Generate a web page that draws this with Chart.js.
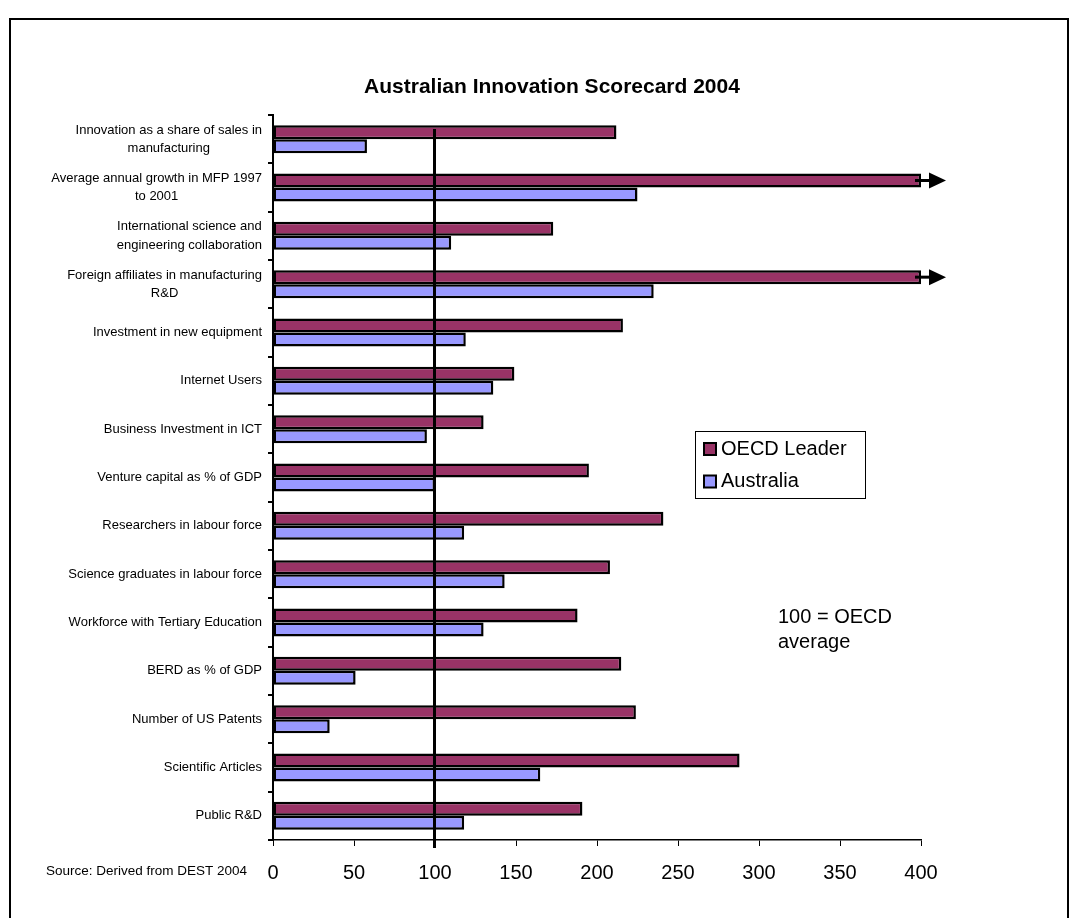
<!DOCTYPE html>
<html>
<head>
<meta charset="utf-8">
<title>Australian Innovation Scorecard 2004</title>
<script src="https://cdn.jsdelivr.net/npm/chart.js@4.4.1/dist/chart.umd.min.js"></script>
<style>
  html, body { margin: 0; padding: 0; background: #fff; }
  canvas { display: block; }
</style>
</head>
<body>
<canvas id="scorecard" width="1074" height="918"></canvas>
<script>
// Indicator names, one array of lines per row (top to bottom)
const categories = [
    ['Innovation as a share of sales in', 'manufacturing'],
    ['Average annual growth in MFP 1997', 'to 2001'],
    ['International science and', 'engineering collaboration'],
    ['Foreign affiliates in manufacturing', 'R&D'],
    ['Investment in new equipment'],
    ['Internet Users'],
    ['Business Investment in ICT'],
    ['Venture capital as % of GDP'],
    ['Researchers in labour force'],
    ['Science graduates in labour force'],
    ['Workforce with Tertiary Education'],
    ['BERD as % of GDP'],
    ['Number of US Patents'],
    ['Scientific Articles'],
    ['Public R&D']
];

// Index values, OECD average = 100 (400 = off the scale)
const oecdLeader = [212, 400, 173, 400, 216, 149, 130, 195, 241, 208, 188, 215, 224, 288, 191];
const australia = [58, 225, 110, 235, 119, 136, 95, 100, 118, 143, 130, 51, 35, 165, 118];

const xTicks = [0, 50, 100, 150, 200, 250, 300, 350, 400];
const referenceValue = 100;
const titleText = 'Australian Innovation Scorecard 2004';
const noteLines = ['100 = OECD', 'average'];
const sourceText = 'Source: Derived from DEST 2004';

const FONT = "'Liberation Sans', Arial, sans-serif";
Chart.defaults.font.family = FONT;
Chart.defaults.color = '#000';

// Page frame, title, category labels, reference line, arrows, legend and notes
const decorations = {
    id: 'decorations',
    beforeDraw(chart) {
        const ctx = chart.ctx;
        ctx.save();
        ctx.strokeStyle = '#000';
        ctx.lineWidth = 2;
        ctx.strokeRect(10, 19, 1058, 1000);

        ctx.fillStyle = '#000';
        ctx.font = 'bold 21px ' + FONT;
        ctx.textAlign = 'center';
        ctx.textBaseline = 'middle';
        ctx.fillText(titleText, 552, 87);
        ctx.restore();
    },
    afterDatasetsDraw(chart) {
        const ctx = chart.ctx;
        const x = chart.scales.x;
        const area = chart.chartArea;

        // vertical line at the OECD average
        const px = Math.round(x.getPixelForValue(referenceValue)) - 0.5;
        ctx.save();
        ctx.strokeStyle = '#000';
        ctx.lineWidth = 3;
        ctx.beginPath();
        ctx.moveTo(px, area.top + 14);
        ctx.lineTo(px, area.bottom + 8);
        ctx.stroke();

        // arrows on bars that run past the end of the scale
        const meta = chart.getDatasetMeta(0);
        oecdLeader.forEach((v, i) => {
            if (v < x.max) return;
            const bar = meta.data[i];
            const bx = bar.x, by = bar.y;
            ctx.lineWidth = 3;
            ctx.beginPath();
            ctx.moveTo(bx - 6, by);
            ctx.lineTo(bx + 10, by);
            ctx.stroke();
            ctx.fillStyle = '#000';
            ctx.beginPath();
            ctx.moveTo(bx + 8, by - 8);
            ctx.lineTo(bx + 25, by);
            ctx.lineTo(bx + 8, by + 8);
            ctx.closePath();
            ctx.fill();
        });
        ctx.restore();
    },
    afterDraw(chart) {
        const ctx = chart.ctx;
        const y = chart.scales.y;
        ctx.save();
        ctx.fillStyle = '#000';

        // category labels: block right-aligned, lines centred within it
        ctx.font = '13px ' + FONT;
        ctx.textAlign = 'center';
        ctx.textBaseline = 'middle';
        const lineH = 18.3;
        categories.forEach((lines, i) => {
            const cy = y.getPixelForValue(i);
            const w = Math.max(...lines.map(l => ctx.measureText(l).width));
            const cx = 262 - w / 2;
            lines.forEach((l, j) => {
                ctx.fillText(l, cx, cy + (j - (lines.length - 1) / 2) * lineH);
            });
        });

        // legend box
        ctx.lineWidth = 1;
        ctx.strokeStyle = '#000';
        ctx.strokeRect(695.5, 431.5, 170, 67);
        ctx.font = '20px ' + FONT;
        ctx.textAlign = 'left';
        chart.data.datasets.forEach((ds, i) => {
            const cy = 449 + i * 32.5;
            ctx.fillStyle = ds.backgroundColor;
            ctx.fillRect(704, cy - 6, 12, 12);
            ctx.lineWidth = 2;
            ctx.strokeRect(704, cy - 6, 12, 12);
            ctx.fillStyle = '#000';
            ctx.fillText(ds.label, 721, cy);
        });

        // note about the scale
        noteLines.forEach((l, j) => ctx.fillText(l, 778, 617 + j * 25));

        // source line
        ctx.font = '13.5px ' + FONT;
        ctx.fillText(sourceText, 46, 871);
        ctx.restore();
    }
};

new Chart(document.getElementById('scorecard'), {
    type: 'bar',
    data: {
        labels: categories,
        datasets: [{
            label: 'OECD Leader',
            data: oecdLeader,
            backgroundColor: '#993366',
            borderColor: '#000',
            borderWidth: 2.5,
            borderSkipped: false
        }, {
            label: 'Australia',
            data: australia,
            backgroundColor: '#9999FF',
            borderColor: '#000',
            borderWidth: 2.5,
            borderSkipped: false
        }]
    },
    options: {
        indexAxis: 'y',
        responsive: false,
        animation: false,
        events: [],
        categoryPercentage: 0.58,
        barPercentage: 1.0,
        layout: { padding: { left: 0, right: 153, top: 115, bottom: 18 } },
        plugins: {
            legend: { display: false },
            tooltip: { enabled: false },
            title: { display: false }
        },
        scales: {
            x: {
                min: 0,
                max: 400,
                afterBuildTicks: (scale) => {
                    scale.ticks = xTicks.map(v => ({ value: v }));
                },
                ticks: { font: { size: 20 }, color: '#000', padding: 15, maxRotation: 0 },
                grid: { drawOnChartArea: false, tickLength: 6, color: '#000', lineWidth: 1 },
                border: { color: '#000', width: 1.5 }
            },
            y: {
                ticks: { display: false },
                afterFit: (scale) => { scale.width = 273; },
                grid: { drawOnChartArea: false, offset: true, tickLength: 5, color: '#000', lineWidth: 2 },
                border: { color: '#000', width: 2 }
            }
        }
    },
    plugins: [decorations]
});
</script>
</body>
</html>
